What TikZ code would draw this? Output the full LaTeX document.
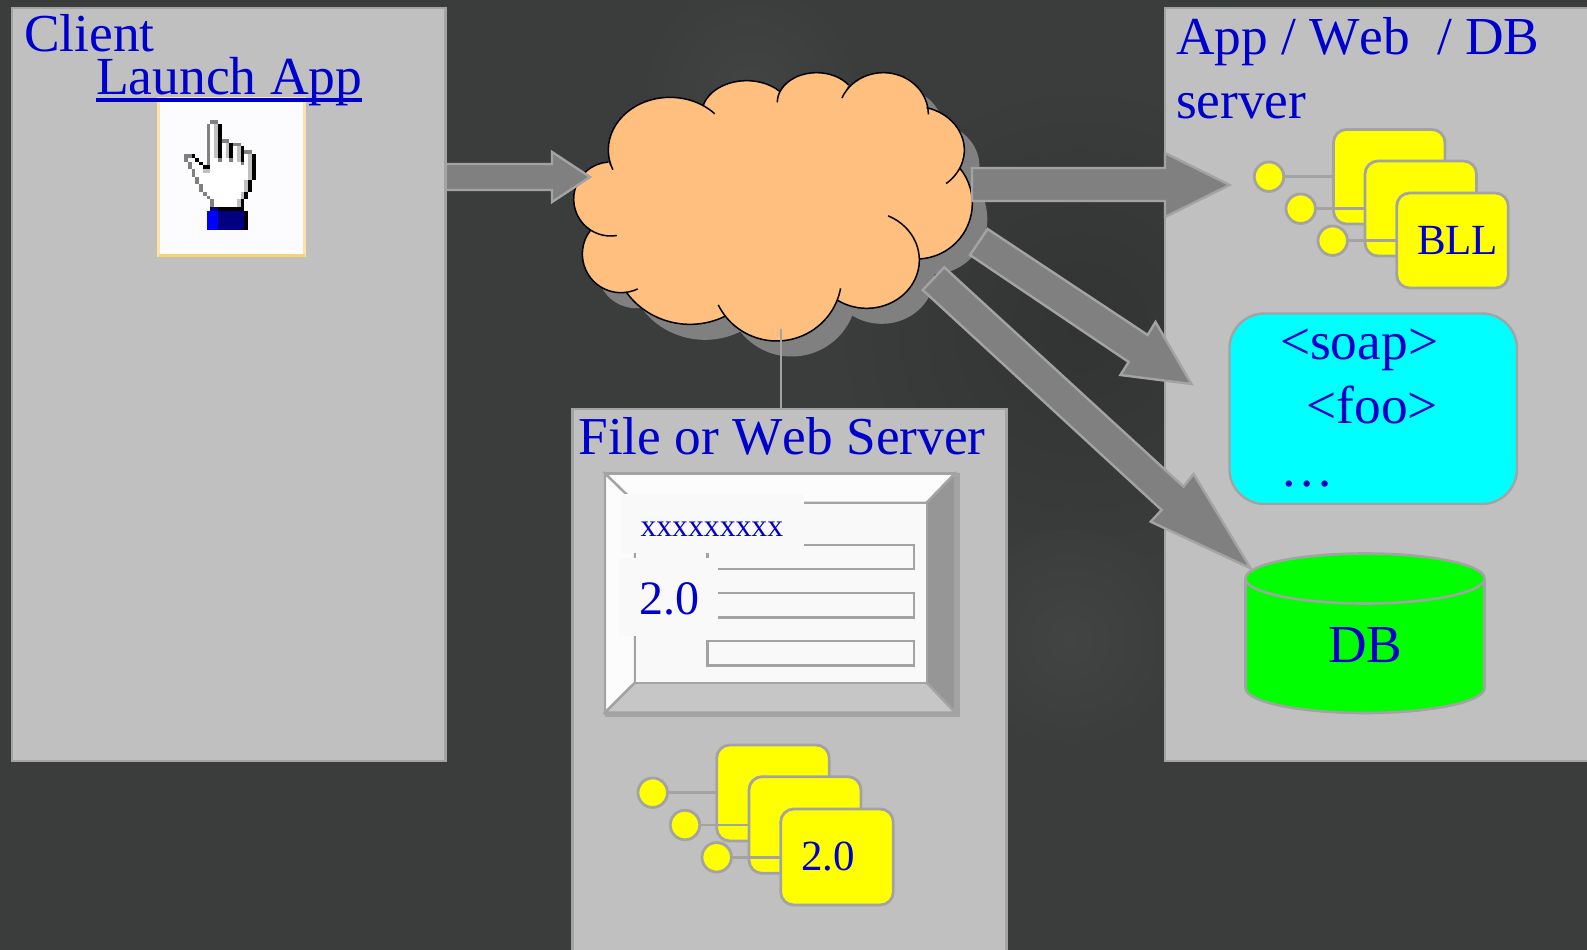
\documentclass[tikz,border=0pt]{standalone}
\usepackage{fontspec}
\setmainfont[Kerning=Off]{Liberation Serif}
\definecolor{bgbase}{HTML}{3B3D3C}
\definecolor{bgdark}{HTML}{323433}
\definecolor{bglight}{HTML}{424443}
\definecolor{panelfill}{HTML}{C0C0C0}
\definecolor{edge}{HTML}{A3A3A3}
\definecolor{ink}{HTML}{0000CC}
\definecolor{cloudfill}{HTML}{FFBF7F}
\definecolor{arrowfill}{HTML}{808080}
\definecolor{handgray}{HTML}{808080}
\definecolor{handlight}{HTML}{C0C0C0}
\definecolor{navyblue}{HTML}{000080}
\definecolor{pureblue}{HTML}{0000FF}
\definecolor{innerface}{HTML}{F9F9F9}
\definecolor{handbox}{HTML}{FFE2A8}
\definecolor{handface}{HTML}{FCFCFE}
\definecolor{handbottom}{HTML}{FDD26E}
\definecolor{compyellow}{HTML}{FFFF00}
\definecolor{soapcyan}{HTML}{00FFFF}
\definecolor{dbgreen}{HTML}{00FF00}
\definecolor{bevelright}{HTML}{969696}
\definecolor{bevelbottom}{HTML}{C6C6C6}
\definecolor{beveltop}{HTML}{FCFCFC}
\tikzset{
  x=1pt,y=-1pt,
  panel/.style={draw=edge,fill=panelfill,line width=2.4pt,inner sep=0pt,outer sep=0pt},
  comp/.style={draw=edge,fill=compyellow,line width=2.8pt,rounded corners=13pt,inner sep=0pt,outer sep=0pt},
  pin/.style={draw=edge,fill=compyellow,line width=2.8pt,circle,minimum size=29.5pt,inner sep=0pt,outer sep=0pt},
  wire/.style={draw=edge,line width=2.8pt},
  lab/.style={anchor=base west,inner sep=0pt,outer sep=0pt,text=ink,font=\fontsize{53.4}{60}\selectfont},
  smalllab/.style={lab,font=\fontsize{43}{50}\selectfont},
  blockarrow/.style={fill=arrowfill,draw=edge,line width=2.4pt,line join=miter,miter limit=10},
  bevel/.style={draw=edge,line width=2.4pt,line join=miter},
  field/.style={draw=edge,line width=2.4pt,fill=innerface,inner sep=0pt,outer sep=0pt},
}
\newcommand{\bx}[6][]{\node[#1,minimum width={(#5-#3)*1pt},minimum height={(#6-#4)*1pt}] (#2) at ({(#3+#5)/2},{(#4+#6)/2}) {};}
% one cloud lobe: name, centre x, centre y, x radius, y radius, start angle, end angle
\newcommand{\mkarc}[7]{%
  \expandafter\def\csname cloud#1\endcsname{({#2+#4*cos(#6)},{#3+#5*sin(#6)}) arc[start angle=#6,end angle=#7,x radius=#4,y radius=#5]}%
  \expandafter\def\csname cloudL#1\endcsname{-- ({#2+#4*cos(#6)},{#3+#5*sin(#6)}) arc[start angle=#6,end angle=#7,x radius=#4,y radius=#5]}}
\mkarc{A}{360}{270}{185}{158}{158}{316.5}
\mkarc{B}{590}{162}{135}{100}{196}{318}
\mkarc{C}{800}{127}{118}{89}{180}{324}
\mkarc{D}{1000}{163}{135}{125}{203}{360}
\mkarc{E}{1090}{270}{153}{131.6}{285}{410}
\mkarc{F}{1100}{430}{167}{167}{321}{446.6}
\mkarc{G}{950}{600}{158}{145}{294}{483.5}
\mkarc{H}{680}{650}{195}{193}{10.5}{154}
\mkarc{I}{420}{570}{232}{223}{63}{145.7}
\mkarc{J}{213}{582}{116}{116}{64.5}{218}
\mkarc{K}{182}{417}{111}{111}{80.5}{266}
\def\cloudall{\cloudA \cloudLB \cloudLC \cloudLD \cloudLE \cloudLF \cloudLG \cloudLH \cloudLI \cloudLJ \cloudLK -- cycle}
\begin{document}
\begin{tikzpicture}
\useasboundingbox (0,0) rectangle (1587,950);
\clip (0,0) rectangle (1587,950);
% background
\fill[bgbase] (0,0) rectangle (1587,950);
\shade[inner color=bgdark,outer color=bgbase] (1080,330) circle (250);
\shade[inner color=bglight,outer color=bgbase] (1070,640) circle (110);
\shade[inner color=bglight,outer color=bgbase] (750,90) circle (110);
% panels
\bx[panel]{client}{12}{8}{445.5}{761}
\bx[panel]{appserver}{1165}{8}{1700}{761}
\bx[panel]{fileserver}{572.5}{409}{1006.5}{1010}
% labels of panels
\node[lab] (clientlab) at (24,52) {Client};
% hand box
\bx[draw=handbox,fill=handface,line width=3pt,inner sep=0pt,outer sep=0pt]{handframe}{158.5}{98}{304.5}{255.5}
\begin{scope}[shift={(184,120)},x=3.777pt,y=-3.777pt]
\fill[white] (7,0)--(9,0)--(9,5)--(12,5)--(12,7)--(15,7)--(15,8)--(18,8)--(18,16)--(17,16)--(17,19)--(16,19)--(16,21)--(15,21)--(15,23)--(7,23)--(7,21)--(6,21)--(6,20)--(5,20)--(5,19)--(4,19)--(4,17)--(3,17)--(3,15)--(2,15)--(2,13)--(1,13)--(1,10)--(3,11)--(5,13)--(6,13)--(6,1)--cycle;
\foreach \c/\r/\w/\h/\k in {
 7/0/2/1/handgray, 6/1/1/12/handgray, 8/1/1/9/handlight, 9/1/1/9/black, 9/10/1/1/handgray,
 10/5/2/1/handgray, 11/6/1/4/handlight, 12/6/1/4/black, 12/10/1/1/handgray,
 13/6/2/1/handgray, 14/7/1/4/handlight, 15/7/1/4/black, 15/11/1/1/handgray,
 16/8/2/1/handgray, 17/9/1/7/handlight, 18/9/1/7/black,
 0/9/2/1/handgray, 2/9/1/1/black, 0/10/1/1/handgray, 3/10/1/1/black, 1/11/1/2/handgray,
 4/11/1/1/black, 5/12/2/1/black, 5/13/2/1/handlight,
 2/13/1/2/handgray, 3/15/1/2/handgray, 4/17/1/2/handgray, 5/19/1/1/handgray, 6/20/1/1/handgray, 7/21/1/2/handgray,
 16/16/1/3/handlight, 17/16/1/3/black, 15/19/1/2/handlight, 16/19/1/2/black, 14/21/1/2/handlight, 15/21/1/2/black,
 7/23/2/1/navyblue, 9/23/7/1/black, 6/24/3/5/pureblue, 9/24/7/5/navyblue, 16/24/1/5/black}
 {\fill[\k] (\c,\r) rectangle ++(\w,\h);}
\end{scope}
\draw[line width=3pt,color=handbottom] (handframe.south west) -- (handframe.south east);
\node[lab,font=\fontsize{53.6}{60}\selectfont] (launch) at (96,94) {Launch App};
\draw[ink,line width=3.2pt] ([yshift=-6pt]launch.base west) -- ([yshift=-6pt]launch.base east);
% app panel labels
\node[lab] (applab) at (1176,54.5) {App / Web\ \ / DB};
\node[lab] (serverlab) at (1176,118) {server};
% BLL stack
\bx[comp]{bllA}{1333.5}{129.5}{1445}{224}
\node[pin] (bllpinA) at (1269,176.7) {};
\draw[wire] (bllpinA) -- (bllA.west |- bllpinA);
\node[pin] (bllpinB) at (1300.7,208.7) {};
\bx[comp,draw=none,fill=none]{bllBghost}{1365}{161}{1476.5}{256}
\draw[wire] (bllpinB) -- (bllBghost.west |- bllpinB);
\bx[comp]{bllB}{1365}{161}{1476.5}{256}
\node[pin] (bllpinC) at (1332.7,240.7) {};
\bx[comp,draw=none,fill=none]{bllCghost}{1396.7}{193}{1508.3}{288}
\draw[wire] (bllpinC) -- (bllCghost.west |- bllpinC);
\bx[comp]{bllC}{1396.7}{193}{1508.3}{288}
\node[smalllab] (blllab) at (1417,254.3) {BLL};
% soap box
\bx[draw=edge,fill=soapcyan,line width=2.4pt,rounded corners=35pt,inner sep=0pt,outer sep=0pt]{soap}{1229.5}{313.5}{1517}{504}
\node[lab] (soaplab) at (1280,359.5) {<soap>};
\node[lab] (foolab) at (1306.5,423) {<foo>};
\node[lab] (dotslab) at (1280,486) {…};
% DB cylinder
\fill[dbgreen] (1245.5,578.5) arc[start angle=180,end angle=360,x radius=119.5,y radius=25] -- (1484.5,688) arc[start angle=0,end angle=180,x radius=119.5,y radius=25] -- cycle;
\draw[edge,line width=2.6pt] (1245.5,578.5) arc[start angle=180,end angle=-180,x radius=119.5,y radius=25];
\draw[edge,line width=2.6pt] (1245.5,578.5) -- (1245.5,688) arc[start angle=180,end angle=0,x radius=119.5,y radius=25] -- (1484.5,578.5);
\node[lab] (dblab) at (1328,662.5) {DB};
% cloud
\begin{scope}[shift={(550,60)},x=0.33333pt,y=-0.33333pt]
\begin{scope}[xshift=15pt,yshift=-15.5pt]
\fill[arrowfill] \cloudall;
\end{scope}
\fill[cloudfill] \cloudall;
\foreach \a in {A,B,C,D,E,F,G,H,I,J,K}
  {\draw[black,line width=1.5pt] \csname cloud\a\endcsname;}
\coordinate (cloudfoot) at (692,808);
\end{scope}
\draw[draw=edge,line width=2.2pt] (cloudfoot) -- (cloudfoot |- fileserver.north);
% file server
\node[lab,font=\fontsize{53.3}{60}\selectfont] (filelab) at (578.5,454) {File or Web Server};
\begin{scope}
\coordinate (oTL) at (605,473.5); \coordinate (oTR) at (955,473.5);
\coordinate (oBR) at (955,712.5); \coordinate (oBL) at (605,712.5);
\coordinate (iTL) at (635,502.7); \coordinate (iTR) at (926.7,502.7);
\coordinate (iBR) at (926.7,682.7); \coordinate (iBL) at (635,682.7);
\draw[bevel,fill=beveltop] (oTL)--(oTR)--(iTR)--(iTL)--cycle;
\draw[bevel,fill=beveltop] (oTL)--(iTL)--(iBL)--(oBL)--cycle;
\draw[bevel,fill=bevelright] (oTR)--(oBR)--(iBR)--(iTR)--cycle;
\draw[bevel,fill=bevelbottom] (oBL)--(oBR)--(iBR)--(iBL)--cycle;
\draw[bevel,fill=innerface] (iTL) rectangle (iBR);
\draw[edge,line width=3pt] (oTL) -- (oTR);
\draw[edge,line width=4.5pt,line join=miter] (957.5,473) -- (957.5,714.7) -- (605,714.7);
\end{scope}
\bx[field]{fieldA}{707.5}{545}{914}{569}
\bx[field]{fieldB}{707.5}{592.7}{914}{617.3}
\bx[field]{fieldC}{707.5}{640.7}{914}{665.3}
\fill[innerface] (621,494.3) rectangle (804,552.7);
\fill[innerface] (618.7,557.7) rectangle (718,635.7);
\node[lab,font=\fontsize{31.7}{36}\selectfont] (xlab) at (640.5,536) {xxxxxxxxx};
\node[lab,font=\fontsize{48}{54}\selectfont] (verlab) at (639,614.3) {2.0};
% file component stack
\bx[comp]{fcA}{716.7}{745}{829.3}{841}
\node[pin] (fcpinA) at (652.7,792.7) {};
\draw[wire] (fcpinA) -- (fcA.west |- fcpinA);
\node[pin] (fcpinB) at (685,825) {};
\bx[comp,draw=none,fill=none]{fcBghost}{749}{776.7}{861}{873.3}
\draw[wire] (fcpinB) -- (fcBghost.west |- fcpinB);
\bx[comp]{fcB}{749}{776.7}{861}{873.3}
\node[pin] (fcpinC) at (716.7,857.3) {};
\bx[comp,draw=none,fill=none]{fcCghost}{780.7}{809}{893.3}{905}
\draw[wire] (fcpinC) -- (fcCghost.west |- fcpinC);
\bx[comp]{fcC}{780.7}{809}{893.3}{905}
\node[smalllab] (fclab) at (801,870.7) {2.0};
% block arrows
\draw[blockarrow] (446,164)--(552,164)--(552,152)--(590,177)--(552,202)--(552,190)--(446,190)--cycle;
\draw[blockarrow] (972,168)--(1165,168)--(1165,153)--(1229.5,185)--(1165,217)--(1165,201)--(972,201)--cycle;
\draw[blockarrow] (987.6,229)--(1147.6,335)--(1155.5,322)--(1191.4,384)--(1120.4,375)--(1128.7,362)--(970,255)--cycle;
\draw[blockarrow] (944.3,267.3)--(1183.5,486.7)--(1193.6,474)--(1250.6,568.3)--(1150.7,521.7)--(1161.6,510)--(922.7,290)--cycle;
\end{tikzpicture}
\end{document}
